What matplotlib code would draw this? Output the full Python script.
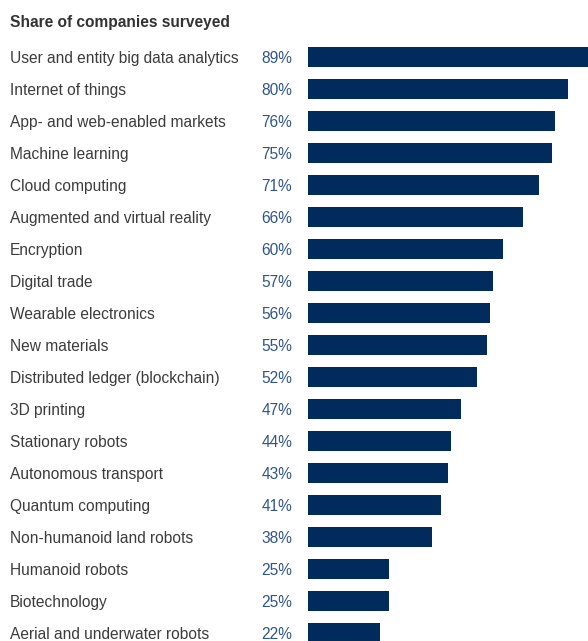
import matplotlib
matplotlib.use("Agg")
import matplotlib.pyplot as plt
import matplotlib.transforms as mtransforms

categories = [
    "User and entity big data analytics", "Internet of things", "App- and web-enabled markets",
    "Machine learning", "Cloud computing", "Augmented and virtual reality", "Encryption",
    "Digital trade", "Wearable electronics", "New materials", "Distributed ledger (blockchain)",
    "3D printing", "Stationary robots", "Autonomous transport", "Quantum computing",
    "Non-humanoid land robots", "Humanoid robots", "Biotechnology", "Aerial and underwater robots",
]
values = [89, 80, 76, 75, 71, 66, 60, 57, 56, 55, 52, 47, 44, 43, 41, 38, 25, 25, 22]
title = "Share of companies surveyed"

plt.rcParams['font.family'] = ['Liberation Sans', 'DejaVu Sans']
W, H = 588, 641
fig = plt.figure(figsize=(W / 100, H / 100), dpi=100)
ax = fig.add_axes([308 / W, 0, 1 - 308 / W, 1])
ax.set_axis_off()

ys = list(range(len(categories)))
ax.barh(ys, values, height=0.625, color="#002b5c")
ax.set_xlim(0, 280 / 3.25)
ax.set_ylim((H - 57) / 32, -57 / 32)

tr = mtransforms.blended_transform_factory(fig.transFigure, ax.transData)
off = mtransforms.ScaledTranslation(0, -6 / 100, fig.dpi_scale_trans)
for y, c, v in zip(ys, categories, values):
    fig.text(10 / W, y, c, transform=tr + off, ha="left", va="baseline", fontsize=11.2, color="#3c3c3c")
    fig.text(292 / W, y, f"{v}%", transform=tr + off, ha="right", va="baseline", fontsize=11.2, color="#2f5589")

fig.text(10 / W, 1 - 27 / H, title, ha="left", va="baseline", fontsize=11.2,
         fontweight="bold", color="#333333")

fig.savefig("out.png", dpi=100)
